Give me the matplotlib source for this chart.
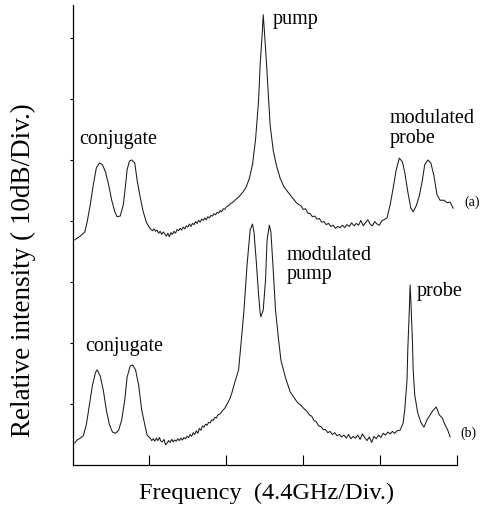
import matplotlib
matplotlib.use('Agg')
import matplotlib.pyplot as plt

# readings: (frequency in div of 4.4 GHz, intensity in div of 10 dB)
trace_a = [
    (0.03, 3.69), (0.06, 3.72), (0.10, 3.75), (0.16, 3.82), (0.19, 3.98), (0.23, 4.26),
    (0.27, 4.59), (0.31, 4.87), (0.35, 4.95), (0.39, 4.92), (0.43, 4.80), (0.47, 4.59),
    (0.51, 4.34), (0.55, 4.15), (0.58, 4.07), (0.62, 4.08), (0.66, 4.26), (0.69, 4.59),
    (0.71, 4.84), (0.74, 4.98), (0.77, 5.00), (0.81, 4.95), (0.84, 4.67), (0.88, 4.39),
    (0.92, 4.15), (0.96, 3.98),
    (1.00, 3.89), (1.02, 3.86), (1.04, 3.84), (1.06, 3.87), (1.08, 3.83), (1.10, 3.85),
    (1.12, 3.80), (1.14, 3.83), (1.16, 3.78), (1.18, 3.82), (1.20, 3.79), (1.22, 3.75),
    (1.24, 3.80), (1.26, 3.74), (1.28, 3.81), (1.30, 3.78), (1.32, 3.83), (1.34, 3.80),
    (1.36, 3.86), (1.38, 3.84), (1.40, 3.88), (1.42, 3.85), (1.44, 3.90), (1.46, 3.87),
    (1.48, 3.92), (1.50, 3.90), (1.52, 3.95), (1.54, 3.91), (1.56, 3.96), (1.58, 3.94),
    (1.60, 3.99), (1.62, 3.96), (1.64, 4.01), (1.66, 3.98), (1.68, 4.03), (1.70, 4.01),
    (1.72, 4.05), (1.74, 4.02), (1.76, 4.07), (1.78, 4.05), (1.80, 4.09), (1.82, 4.08),
    (1.84, 4.12), (1.86, 4.10), (1.88, 4.14), (1.90, 4.13), (1.92, 4.17), (1.94, 4.15),
    (1.96, 4.20), (1.98, 4.19), (2.00, 4.23), (2.03, 4.25), (2.06, 4.29), (2.09, 4.31),
    (2.12, 4.35), (2.15, 4.38), (2.18, 4.42), (2.22, 4.48),
    (2.26, 4.56), (2.30, 4.70), (2.34, 4.92), (2.38, 5.33), (2.42, 5.98), (2.44, 6.56),
    (2.47, 7.13), (2.48, 7.38), (2.49, 7.21), (2.52, 6.64), (2.55, 5.98), (2.57, 5.57),
    (2.61, 5.16), (2.65, 4.92), (2.70, 4.70), (2.75, 4.56), (2.81, 4.46), (2.86, 4.38),
    (2.91, 4.30), (2.94, 4.27), (2.97, 4.25), (3.00, 4.19), (3.03, 4.20), (3.06, 4.13),
    (3.09, 4.12), (3.12, 4.07), (3.15, 4.08), (3.18, 4.03), (3.21, 4.04), (3.24, 3.98),
    (3.27, 3.99), (3.30, 3.94), (3.33, 3.96), (3.36, 3.91), (3.39, 3.93), (3.42, 3.88),
    (3.45, 3.91), (3.48, 3.89), (3.51, 3.93), (3.54, 3.89), (3.57, 3.94), (3.60, 3.91),
    (3.63, 3.97), (3.66, 3.92), (3.69, 3.96), (3.72, 3.93), (3.75, 4.01), (3.78, 3.92),
    (3.81, 3.97), (3.84, 4.02), (3.87, 3.95), (3.90, 3.92), (3.93, 3.99), (3.96, 3.95),
    (3.99, 3.93), (4.02, 4.00), (4.05, 4.02), (4.09, 4.05),
    (4.13, 4.26), (4.17, 4.54), (4.21, 4.84), (4.25, 5.03), (4.29, 4.97), (4.32, 4.80),
    (4.36, 4.48), (4.40, 4.21), (4.43, 4.15), (4.47, 4.25), (4.51, 4.41), (4.55, 4.67),
    (4.58, 4.92), (4.62, 5.00), (4.66, 4.95), (4.70, 4.74), (4.74, 4.43), (4.78, 4.34),
    (4.83, 4.34), (4.87, 4.30), (4.91, 4.31), (4.95, 4.21),
]

trace_b = [
    (0.03, 0.36), (0.06, 0.41), (0.10, 0.44), (0.14, 0.48), (0.18, 0.66), (0.22, 0.98),
    (0.26, 1.31), (0.30, 1.52), (0.32, 1.56), (0.36, 1.46), (0.40, 1.23), (0.44, 0.90),
    (0.48, 0.66), (0.52, 0.54), (0.56, 0.52), (0.60, 0.57), (0.64, 0.74), (0.68, 1.07),
    (0.71, 1.44), (0.75, 1.62), (0.78, 1.64), (0.82, 1.56), (0.86, 1.31), (0.90, 0.90),
    (0.94, 0.66), (0.97, 0.49),
    (1.01, 0.44), (1.03, 0.40), (1.05, 0.43), (1.07, 0.39), (1.09, 0.44), (1.11, 0.40),
    (1.13, 0.45), (1.15, 0.39), (1.17, 0.38), (1.19, 0.42), (1.21, 0.33), (1.23, 0.36),
    (1.25, 0.40), (1.27, 0.37), (1.29, 0.42), (1.31, 0.38), (1.33, 0.41), (1.35, 0.39),
    (1.37, 0.43), (1.39, 0.40), (1.41, 0.44), (1.43, 0.41), (1.45, 0.45), (1.47, 0.43),
    (1.49, 0.47), (1.51, 0.45), (1.53, 0.50), (1.55, 0.47), (1.57, 0.53), (1.59, 0.50),
    (1.61, 0.56), (1.63, 0.52), (1.65, 0.60), (1.67, 0.57), (1.69, 0.64), (1.71, 0.62),
    (1.73, 0.67), (1.75, 0.65), (1.77, 0.70), (1.79, 0.69), (1.81, 0.74), (1.83, 0.73),
    (1.85, 0.78), (1.87, 0.77), (1.89, 0.82), (1.92, 0.84), (1.95, 0.89), (1.98, 0.93),
    (2.01, 1.00), (2.04, 1.07), (2.07, 1.17), (2.10, 1.31),
    (2.16, 1.56), (2.19, 1.97), (2.23, 2.54), (2.27, 3.28), (2.31, 3.85), (2.34, 3.95),
    (2.36, 3.82), (2.39, 3.33), (2.42, 2.79), (2.44, 2.49), (2.45, 2.43), (2.48, 2.54),
    (2.51, 3.03), (2.53, 3.69), (2.56, 3.93), (2.58, 3.82), (2.61, 3.20), (2.64, 2.54),
    (2.68, 2.05), (2.71, 1.72), (2.77, 1.43), (2.83, 1.20),
    (2.90, 1.07), (2.93, 1.02), (2.96, 0.99), (2.99, 0.95), (3.02, 0.91), (3.05, 0.88),
    (3.08, 0.82), (3.11, 0.80), (3.14, 0.73), (3.17, 0.71), (3.20, 0.64), (3.23, 0.63),
    (3.26, 0.58), (3.29, 0.58), (3.32, 0.53), (3.35, 0.55), (3.38, 0.50), (3.41, 0.53),
    (3.44, 0.48), (3.47, 0.50), (3.50, 0.46), (3.53, 0.49), (3.56, 0.44), (3.59, 0.50),
    (3.62, 0.43), (3.65, 0.47), (3.68, 0.44), (3.71, 0.49), (3.74, 0.42), (3.77, 0.51),
    (3.80, 0.45), (3.83, 0.40), (3.86, 0.46), (3.89, 0.37), (3.92, 0.47), (3.95, 0.43),
    (3.98, 0.49), (4.01, 0.45), (4.04, 0.52), (4.07, 0.49), (4.10, 0.54), (4.13, 0.51),
    (4.16, 0.55), (4.19, 0.52), (4.22, 0.56), (4.26, 0.57),
    (4.30, 0.69), (4.32, 0.90), (4.35, 1.39), (4.36, 1.89), (4.38, 2.54), (4.39, 2.95),
    (4.40, 2.70), (4.42, 2.05), (4.43, 1.56), (4.45, 1.15), (4.49, 0.85), (4.53, 0.70),
    (4.57, 0.62), (4.61, 0.74), (4.65, 0.82), (4.69, 0.90), (4.73, 0.95), (4.77, 0.82),
    (4.81, 0.77), (4.84, 0.67), (4.88, 0.57), (4.91, 0.46),
]

freq_a, level_a = zip(*trace_a)
freq_b, level_b = zip(*trace_b)

plt.rcParams['font.family'] = ['Liberation Serif', 'DejaVu Serif']

fig = plt.figure(figsize=(4.81, 5.12), dpi=100)
ax = fig.add_axes([72.5 / 481, 47 / 512, 384.5 / 481, 460 / 512])

ax.plot(freq_a, level_a, color='#1a1a1a', lw=0.75)
ax.plot(freq_b, level_b, color='#1a1a1a', lw=0.75)

ax.set_xlim(0, 5)
ax.set_ylim(0, 7.54)
ax.set_xticks([1, 2, 3, 4, 5])
ax.set_yticks([1, 2, 3, 4, 5, 6, 7])
ax.tick_params(axis='x', direction='in', length=7, width=0.8, labelbottom=False)
ax.tick_params(axis='y', direction='out', length=2.5, width=0.8, labelleft=False)
for side in ['top', 'right']:
    ax.spines[side].set_visible(False)
for side in ['left', 'bottom']:
    ax.spines[side].set_linewidth(0.9)

fs = 14.5
ax.text(2.60, 7.30, 'pump', fontsize=fs, va='center', ha='left')
ax.text(0.09, 5.33, 'conjugate', fontsize=fs, va='center', ha='left')
ax.text(4.12, 5.52, 'modulated\nprobe', fontsize=fs, va='center', ha='left',
        linespacing=1.05)
ax.text(5.10, 4.30, '(a)', fontsize=10, va='center', ha='left', clip_on=False)
ax.text(2.78, 3.28, 'modulated\npump', fontsize=fs, va='center', ha='left',
        linespacing=1.05)
ax.text(4.48, 2.84, 'probe', fontsize=fs, va='center', ha='left')
ax.text(0.17, 1.95, 'conjugate', fontsize=fs, va='center', ha='left')
ax.text(5.04, 0.52, '(b)', fontsize=10, va='center', ha='left', clip_on=False)

fig.text(267 / 481, 1 - 493 / 512, 'Frequency  (4.4GHz/Div.)', fontsize=17.5,
         ha='center', va='center')
fig.text(23 / 481, 1 - 270 / 512, 'Relative intensity ( 10dB/Div.)', fontsize=19.5,
         ha='center', va='center', rotation=90)

fig.savefig('out.png', dpi=100)
